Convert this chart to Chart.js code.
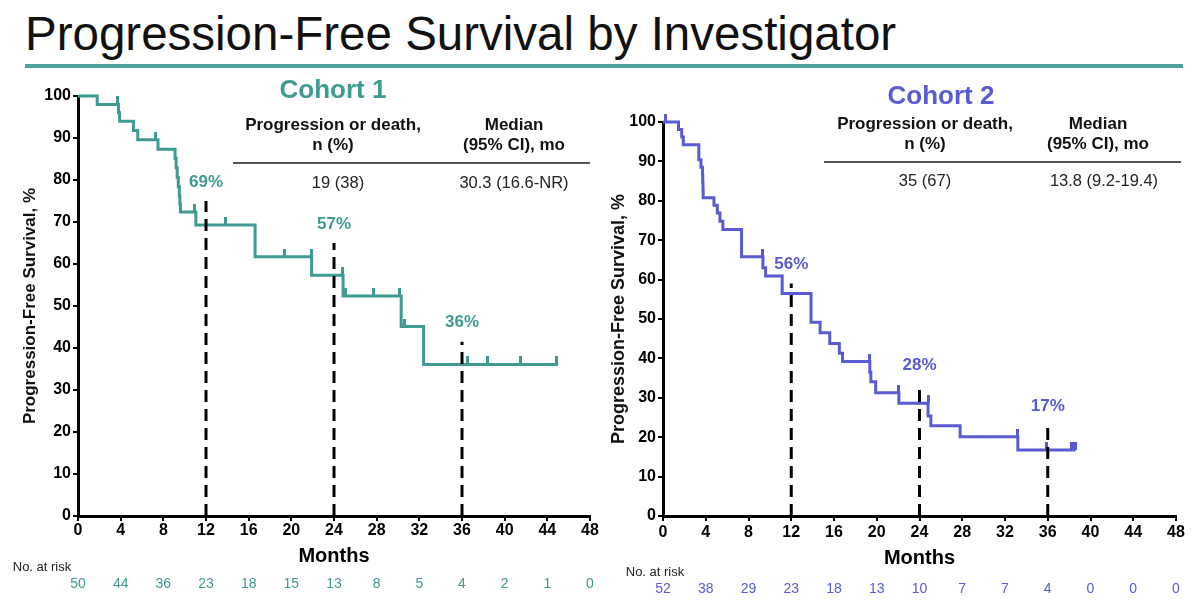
<!DOCTYPE html>
<html lang="en">
<head>
<meta charset="UTF-8">
<title>Progression-Free Survival by Investigator</title>
<style>
    body {
        margin: 0;
        background: #fff;
        font-family: "Liberation Sans", Arial, sans-serif;
        color: #111;
    }
    #page {
        position: relative;
        width: 1200px;
        height: 606px;
        overflow: hidden;
    }
    canvas {
        position: absolute;
        top: 0;
    }
    .t {
        position: absolute;
        white-space: nowrap;
        transform: translate(-50%, -50%);
        line-height: 1;
    }
    .hd { font-weight: bold; font-size: 17px; }
    .val { font-size: 16.5px; color: #222; }
    .risk { font-size: 13px; color: #222; }
    .rule { position: absolute; height: 1.5px; background: #555; }
</style>
</head>
<body>
<div id="page">
    <div style="position:absolute;left:25px;top:10px;font-size:47.5px;line-height:47.5px;">Progression-Free Survival by Investigator</div>
    <div style="position:absolute;left:25px;top:64px;width:1158px;height:4px;background:#4f9f9f;"></div>
    <div class="rule" style="left:233px;top:162px;width:357px;"></div>
    <div class="rule" style="left:824px;top:161px;width:357px;"></div>
    <canvas id="c1" width="600" height="606" style="left:0"></canvas>
    <canvas id="c2" width="600" height="606" style="left:600px"></canvas>
</div>

<script src="https://cdn.jsdelivr.net/npm/chart.js"></script>
<script>
    const TEAL = '#3f9a92';
    const PURPLE = '#5a5ad2';
    const FONT = '"Liberation Sans", Arial, sans-serif';

    // axis ticks
    const monthTicks = [0, 4, 8, 12, 16, 20, 24, 28, 32, 36, 40, 44, 48];
    const pctTicks = [0, 10, 20, 30, 40, 50, 60, 70, 80, 90, 100];
    const landmarkMonths = [12, 24, 36];

    // Cohort 1: KM steps (month, PFS % after the event)
    const c1Times = [0, 1.8, 3.8, 3.9, 5.2, 5.6, 7.5, 9.1, 9.2, 9.3, 9.4, 9.5, 9.55, 9.6, 11.05, 16.6, 21.9, 24.85, 30.3, 32.4, 45];
    const c1Surv = [100, 98, 96, 94, 91.8, 89.6, 87.3, 85.1, 82.9, 80.6, 78.4, 76.2, 74.3, 72.4, 69.3, 61.7, 57.3, 52.4, 45.1, 36.1, 36.1];
    const c1CensorTimes = [3.7, 7.3, 10.95, 13.8, 19.4, 21.9, 24.8, 25.1, 27.7, 30.15, 30.6, 36.5, 38.4, 41.5, 44.9];
    const c1CensorSurv = [98, 89.6, 72.4, 69.3, 61.7, 61.7, 57.3, 52.4, 52.4, 52.4, 45.1, 36.1, 36.1, 36.1, 36.1];
    const c1Landmark = [69, 57, 36];
    const c1DashTop = [75, 65, 41.5];
    const c1AtRisk = [50, 44, 36, 23, 18, 15, 13, 8, 5, 4, 2, 1, 0];

    // Cohort 2
    const c2Times = [0, 1.45, 1.75, 1.9, 3.35, 3.55, 3.7, 3.72, 3.74, 3.76, 4.77, 5.08, 5.33, 5.6, 7.35, 9.35, 9.6, 11.15, 13.85, 14.7, 15.6, 16.5, 16.8, 19.35, 19.45, 19.9, 22.07, 24.8, 25.06, 27.8, 33.2, 38.6];
    const c2Surv = [100, 98.1, 96.2, 94.2, 90.4, 88.5, 86.5, 84.6, 82.7, 80.8, 78.9, 76.9, 74.8, 72.7, 65.8, 63.0, 60.9, 56.5, 49.2, 46.5, 43.8, 41.3, 39.2, 36.5, 34.1, 31.3, 28.6, 25.4, 22.9, 20.1, 16.75, 16.75];
    const c2CensorTimes = [0.2, 9.3, 19.3, 22.07, 24.8, 33.2, 35.9, 38.2, 38.4, 38.55];
    const c2CensorSurv = [100, 65.8, 39.2, 31.3, 28.6, 20.1, 16.75, 16.75, 16.75, 16.75];
    const c2Landmark = [56, 28, 17];
    const c2DashTop = [59, 33.5, 23];
    const c2AtRisk = [52, 38, 29, 23, 18, 13, 10, 7, 7, 4, 0, 0, 0];

    // centred text helper for the html labels
    function put(text, cx, cy, cls, css) {
        const d = document.createElement('div');
        d.className = 't ' + (cls || '');
        d.textContent = text;
        d.style.left = cx + 'px';
        d.style.top = cy + 'px';
        if (css) d.style.cssText += css;
        document.getElementById('page').appendChild(d);
    }

    put('Cohort 1', 333, 89, '', 'font-weight:bold;font-size:26px;color:' + TEAL);
    put('Progression or death,', 333, 124, 'hd');
    put('n (%)', 333, 144, 'hd');
    put('Median', 514, 124, 'hd');
    put('(95% CI), mo', 514, 144, 'hd');
    put('19 (38)', 338, 182, 'val');
    put('30.3 (16.6-NR)', 514, 182, 'val');
    put('No. at risk', 42, 566, 'risk');

    put('Cohort 2', 941, 95, '', 'font-weight:bold;font-size:26px;color:' + PURPLE);
    put('Progression or death,', 925, 123, 'hd');
    put('n (%)', 925, 143, 'hd');
    put('Median', 1098, 123, 'hd');
    put('(95% CI), mo', 1098, 143, 'hd');
    put('35 (67)', 925, 180, 'val');
    put('13.8 (9.2-19.4)', 1104, 180, 'val');
    put('No. at risk', 655, 571, 'risk');

    // small vertical censor tick sitting on top of the curve
    function tickMark(color) {
        const c = document.createElement('canvas');
        c.width = 3;
        c.height = 16;
        const g = c.getContext('2d');
        g.fillStyle = color;
        g.fillRect(0, 0, 3, 8);
        return c;
    }

    function notes(color, pct, tops, risk, riskY) {
        return {
            id: 'notes',
            afterDatasetsDraw(chart) {
                const ctx = chart.ctx;
                const xs = chart.scales.x, ys = chart.scales.y;
                ctx.save();
                ctx.fillStyle = color;
                ctx.textAlign = 'center';
                ctx.textBaseline = 'middle';
                ctx.font = 'bold 17px ' + FONT;
                landmarkMonths.forEach((m, i) => {
                    ctx.fillText(pct[i] + '%', xs.getPixelForValue(m), ys.getPixelForValue(tops[i]) - 19);
                });
                ctx.font = '14px "Liberation Sans Narrow", ' + FONT;
                risk.forEach((n, i) => {
                    ctx.fillText(String(n), xs.getPixelForValue(monthTicks[i]), riskY);
                });
                ctx.restore();
            }
        };
    }

    function makeChart(c) {
        const datasets = [];
        // dashed landmark lines first so they sit on top of the curve
        landmarkMonths.forEach((m, i) => {
            datasets.push({
                data: [{x: m, y: 0}, {x: m, y: c.tops[i]}],
                borderColor: '#000',
                borderWidth: 3,
                borderDash: [12, 7],
                pointRadius: 0
            });
        });
        datasets.push({
            data: c.censT.map((t, i) => ({x: t, y: c.censS[i]})),
            showLine: false,
            pointStyle: tickMark(c.color),
            pointRadius: 4,
            clip: false
        });
        datasets.push({
            data: c.times.map((t, i) => ({x: t, y: c.surv[i]})),
            stepped: 'before',
            borderColor: c.color,
            borderWidth: 3,
            pointRadius: 0,
            clip: false
        });

        return new Chart(document.getElementById(c.canvas), {
            type: 'line',
            data: {datasets: datasets},
            options: {
                responsive: false,
                animation: false,
                events: [],
                layout: {padding: {top: c.top, right: c.right, left: 0, bottom: 0}},
                plugins: {legend: {display: false}, tooltip: {enabled: false}},
                scales: {
                    x: {
                        type: 'linear',
                        min: 0,
                        max: 48,
                        afterBuildTicks: s => { s.ticks = monthTicks.map(v => ({value: v})); },
                        afterFit: s => { s.height = 90; },
                        border: {color: '#000', width: 3},
                        grid: {drawOnChartArea: false, drawTicks: true, tickLength: 5, color: '#000', lineWidth: 2},
                        ticks: {color: '#000', font: {family: FONT, size: 16, weight: 'bold'}, padding: c.xPad, maxRotation: 0, autoSkip: false},
                        title: {display: true, text: 'Months', color: '#000', font: {family: FONT, size: 20, weight: 'bold'}, padding: {top: 0, bottom: c.monthsPad}}
                    },
                    y: {
                        min: 0,
                        max: 100,
                        afterBuildTicks: s => { s.ticks = pctTicks.map(v => ({value: v})); },
                        afterFit: s => { s.width = c.left; },
                        border: {color: '#000', width: 3},
                        grid: {drawOnChartArea: false, drawTicks: true, tickLength: 5, color: '#000', lineWidth: 2},
                        ticks: {color: '#000', font: {family: FONT, size: 16, weight: 'bold'}, padding: 2},
                        title: {display: true, text: 'Progression-Free Survival, %', color: '#111', font: {family: FONT, size: c.yTitleSize, weight: 'bold'}, padding: {top: c.yTitlePad, bottom: 0}}
                    }
                }
            },
            plugins: [notes(c.color, c.pct, c.tops, c.risk, c.riskY)]
        });
    }

    makeChart({
        canvas: 'c1', color: TEAL,
        times: c1Times, surv: c1Surv, censT: c1CensorTimes, censS: c1CensorSurv,
        pct: c1Landmark, tops: c1DashTop, risk: c1AtRisk,
        top: 96, left: 78, right: 10, xPad: 0, monthsPad: 38, yTitleSize: 17, yTitlePad: 20, riskY: 584
    });
    makeChart({
        canvas: 'c2', color: PURPLE,
        times: c2Times, surv: c2Surv, censT: c2CensorTimes, censS: c2CensorSurv,
        pct: c2Landmark, tops: c2DashTop, risk: c2AtRisk,
        top: 122, left: 63, right: 24, xPad: 2, monthsPad: 36, yTitleSize: 18, yTitlePad: 8, riskY: 589
    });
</script>
</body>
</html>
